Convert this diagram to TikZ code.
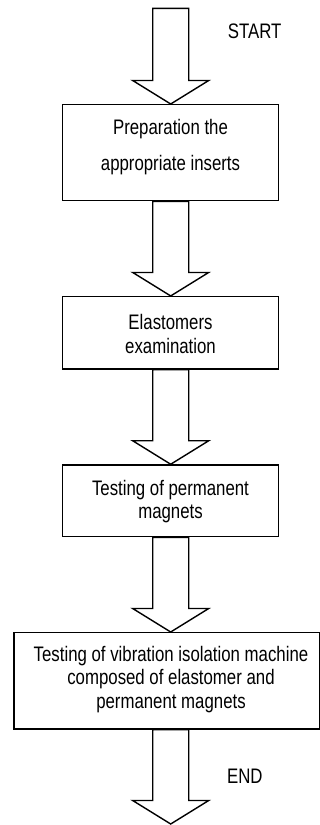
\documentclass[tikz,border=0pt]{standalone}
\usepackage{fontspec}
\setmainfont{Liberation Sans}[FakeStretch=0.80]
\usetikzlibrary{calc}
\newcommand\blockarr[2]{%
  \draw[blk] let \p1=(#1), \p2=(#2) in
    ({\x1-18pt},\y1) -- ({\x1+18pt},\y1) -- ({\x1+18pt},{\y2+23.5pt})
    -- ({\x1+38pt},{\y2+23.5pt}) -- (\x1,\y2) -- ({\x1-38pt},{\y2+23.5pt})
    -- ({\x1-18pt},{\y2+23.5pt}) -- cycle;}
\begin{document}
\begin{tikzpicture}[x=1pt,y=-1pt,
  blk/.style={draw, line width=1.4pt, line join=miter, fill=white},
  box/.style={draw, line width=1.4pt, inner sep=0pt},
  txt/.style={inner sep=0pt, align=center, font=\fontsize{21}{23.3}\selectfont},
  lbl/.style={inner sep=0pt, font=\fontsize{21}{23.3}\selectfont}]
\useasboundingbox (0,0) rectangle (320,825);
\fill[white] (0,0) rectangle (320,825);
% boxes
\node[box, minimum width=216.4pt, minimum height=96pt] (b1) at (170.5,152.7) {};
\node[box, minimum width=216.4pt, minimum height=72.3pt] (b2) at (170.5,332.8) {};
\node[box, minimum width=216.4pt, minimum height=71.7pt] (b3) at (170.5,500.8) {};
\node[box, minimum width=305.5pt, minimum height=96.3pt] (b4) at (166.75,680.85) {};
% texts
\node[txt, font=\fontsize{21}{36}\selectfont] (t1) at (170.5,147.5) {Preparation the\\appropriate inserts};
\node[txt] (t2) at (170.5,334) {Elastomers\\examination};
\node[txt] (t3) at (170.5,501.5) {Testing of permanent\\magnets};
\node[txt] (t4) at (171,679.5) {Testing of vibration isolation machine\\composed of elastomer and\\permanent magnets};
\node[lbl] (start) at (254.7,31) {START};
\node[lbl] (end) at (244.8,776.7) {END};
% arrows
\coordinate (s) at (170.7,8.3);
\coordinate (e) at (170.7,824);
\blockarr{s}{s |- b1.north}
\blockarr{s |- b1.south}{s |- b2.north}
\blockarr{s |- b2.south}{s |- b3.north}
\blockarr{s |- b3.south}{s |- b4.north}
\blockarr{s |- b4.south}{e}
\end{tikzpicture}
\end{document}
